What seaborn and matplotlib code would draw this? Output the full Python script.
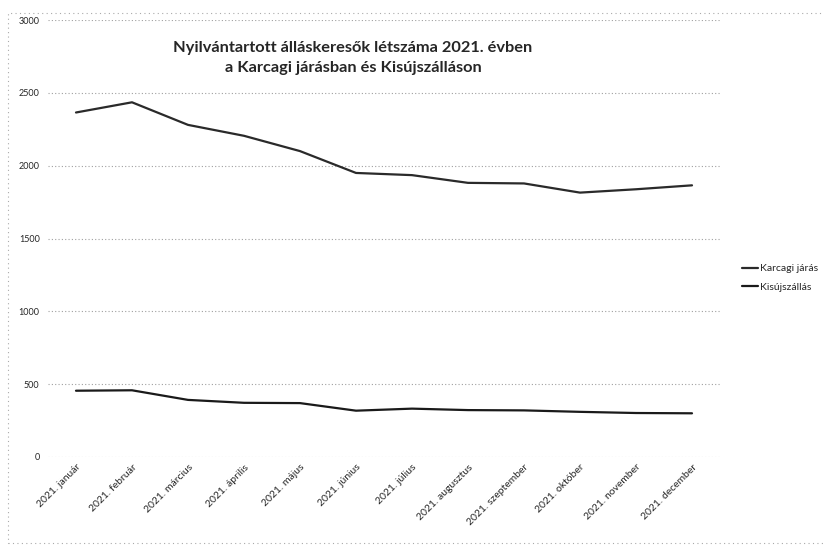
import matplotlib
matplotlib.use('Agg')
import matplotlib.pyplot as plt
import seaborn as sns
import pandas as pd

months = ['2021. január', '2021. február', '2021. március', '2021. április',
          '2021. május', '2021. június', '2021. július', '2021. augusztus',
          '2021. szeptember', '2021. október', '2021. november', '2021. december']
karcagi = [2365, 2435, 2280, 2205, 2100, 1950, 1935, 1882, 1878, 1815, 1838, 1865]
kisujszallas = [455, 458, 392, 372, 370, 318, 332, 322, 320, 310, 302, 300]
series_names = ['Karcagi járás', 'Kisújszállás']
title = 'Nyilvántartott álláskeresők létszáma 2021. évben\na Karcagi járásban és Kisújszálláson'


def main():
    df = pd.DataFrame({
        'Hónap': months * 2,
        'Létszám': karcagi + kisujszallas,
        'Sorozat': [series_names[0]] * len(months) + [series_names[1]] * len(months),
    })

    sns.set_style('white')
    plt.rcParams['font.family'] = ['Lato', 'DejaVu Sans']

    fig = plt.figure(figsize=(8.24, 5.46), dpi=100)
    ax = fig.add_axes([48 / 824, 1 - 457 / 546, 672 / 824, 437 / 546])

    sns.lineplot(data=df, x='Hónap', y='Létszám', hue='Sorozat', sort=False,
                 palette=['#2a2a2a', '#1a1a1a'], linewidth=1.6, ax=ax)

    ax.set_xlim(-0.5, len(months) - 0.5)
    ax.set_ylim(0, 3000)
    ax.set_yticks(range(0, 3001, 500))
    ax.set_yticklabels([str(v) for v in range(0, 3001, 500)], fontsize=6.5)
    ax.grid(axis='y', color='#a0a0a0', linestyle=(0, (1, 2)), linewidth=0.8)
    ax.set_axisbelow(True)
    for s in ax.spines.values():
        s.set_visible(False)
    ax.tick_params(axis='y', length=0, pad=6)
    ax.tick_params(axis='x', length=0, pad=4)
    plt.setp(ax.get_xticklabels(), rotation=45, ha='right', rotation_mode='anchor', fontsize=7.5)
    ax.set_xlabel('')
    ax.set_ylabel('')

    ax.legend(loc='center left', bbox_to_anchor=(733 / 824, 1 - 278 / 546),
              bbox_transform=fig.transFigure, frameon=False, fontsize=7.5,
              handlelength=1.5, handletextpad=0.2, labelspacing=0.9)

    fig.text(353 / 824, 1 - 58 / 546, title, ha='center', va='center',
             fontsize=11.8, fontweight='bold', linespacing=1.6)

    border = plt.Rectangle((8 / 824, 0.005), 1.2, 1 - 13 / 546 - 0.005,
                           transform=fig.transFigure, fill=False,
                           edgecolor='#aaaaaa', linestyle=(0, (1, 3)), linewidth=0.8)
    fig.patches.append(border)

    fig.savefig('out.png', dpi=100)
    plt.close()


if __name__ == '__main__':
    main()
